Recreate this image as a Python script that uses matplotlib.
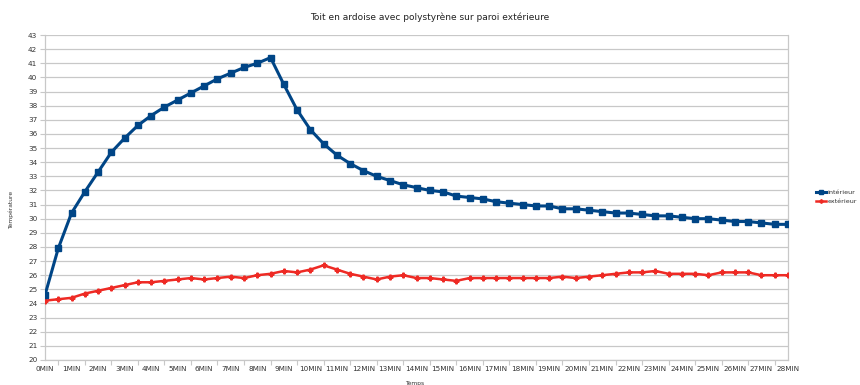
import numpy as np
import matplotlib
matplotlib.use("Agg")
import matplotlib.pyplot as plt
from matplotlib.ticker import MultipleLocator

# Time in minutes (readings every half minute)
minutes = np.arange(0, 28.5, 0.5)

interieur = [24.6, 27.9, 30.4, 31.9, 33.3, 34.7, 35.7, 36.6, 37.3, 37.9,
             38.4, 38.9, 39.4, 39.9, 40.3, 40.7, 41.0, 41.4, 39.5, 37.7,
             36.3, 35.3, 34.5, 33.9, 33.4, 33.0, 32.7, 32.4, 32.2, 32.0,
             31.9, 31.6, 31.5, 31.4, 31.2, 31.1, 31.0, 30.9, 30.9, 30.7,
             30.7, 30.6, 30.5, 30.4, 30.4, 30.3, 30.2, 30.2, 30.1, 30.0,
             30.0, 29.9, 29.8, 29.8, 29.7, 29.6, 29.6]

exterieur = [24.2, 24.3, 24.4, 24.7, 24.9, 25.1, 25.3, 25.5, 25.5, 25.6,
             25.7, 25.8, 25.7, 25.8, 25.9, 25.8, 26.0, 26.1, 26.3, 26.2,
             26.4, 26.7, 26.4, 26.1, 25.9, 25.7, 25.9, 26.0, 25.8, 25.8,
             25.7, 25.6, 25.8, 25.8, 25.8, 25.8, 25.8, 25.8, 25.8, 25.9,
             25.8, 25.9, 26.0, 26.1, 26.2, 26.2, 26.3, 26.1, 26.1, 26.1,
             26.0, 26.2, 26.2, 26.2, 26.0, 26.0, 26.0]

tick_minutes = list(range(0, 29))
tick_labels = [f"{m}MIN" for m in tick_minutes]

title = "Toit en ardoise avec polystyrène sur paroi extérieure"
ylabel = "Température"
xlabel = "Temps"

fig = plt.figure(figsize=(8.6, 3.85), dpi=100)
ax = fig.add_axes([45 / 860, 1 - 360 / 385, (788 - 45) / 860, (360 - 35) / 385])

blue = "#004586"
red = "#ee2a24"
grid_c = "#c8c8c8"

ax.plot(minutes, interieur, color=blue, lw=2.2, marker="s", ms=3.8,
        label="intérieur", zorder=4, solid_joinstyle="round")
ax.plot(minutes, exterieur, color=red, lw=1.8, marker="P", ms=3.4,
        label="extérieur", zorder=3, solid_joinstyle="round")

ax.set_xlim(0, 28)
ax.set_ylim(20, 43)
ax.yaxis.set_major_locator(MultipleLocator(1))
ax.set_xticks(tick_minutes)
ax.set_xticklabels(tick_labels)
ax.xaxis.set_minor_locator(MultipleLocator(0.5))

ax.grid(axis="y", color=grid_c, lw=0.9)
ax.set_axisbelow(True)
for side in ["left", "right", "bottom"]:
    ax.spines[side].set_color(grid_c)
    ax.spines[side].set_linewidth(0.9)
ax.spines["top"].set_visible(False)

ax.tick_params(axis="both", which="both", colors=grid_c, labelcolor="#333333",
               labelsize=5.2, width=0.8)
ax.tick_params(axis="x", which="major", length=0, pad=4)
ax.tick_params(axis="x", which="minor", length=3.5)
ax.tick_params(axis="y", which="major", length=3.5, pad=2)

fig.text(0.5, 1 - 17 / 385, title, ha="center", va="center",
         fontsize=6.5, color="#222222")
fig.text(11 / 860, 1 - 210 / 385, ylabel, ha="center", va="center",
         rotation=90, fontsize=4.3, color="#333333")
fig.text(415 / 860, 1 - 383 / 385, xlabel, ha="center", va="center",
         fontsize=4.3, color="#333333")

leg = fig.legend(loc="center left", bbox_to_anchor=(816 / 860, 1 - 197 / 385),
                 frameon=False, fontsize=4.6, handlelength=1.5, handletextpad=0.25,
                 labelspacing=0.5, markerscale=0.7, borderpad=0, borderaxespad=0)
for t in leg.get_texts():
    t.set_color("#333333")

fig.savefig("out.png", dpi=100)
